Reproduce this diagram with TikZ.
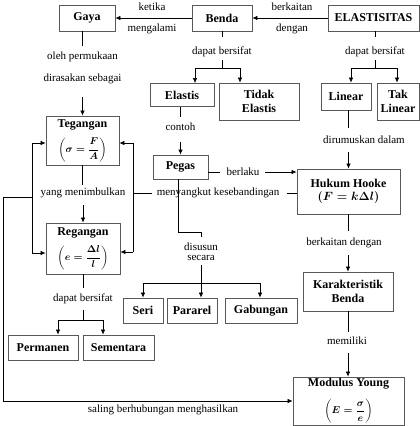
\documentclass[tikz,border=0pt]{standalone}
\usepackage{fontspec}
\setmainfont{Liberation Serif}
\usepackage{amsmath}
\usetikzlibrary{arrows.meta}
\newcommand\formsz{\fontsize{10}{12}\selectfont}
\begin{document}
\begin{tikzpicture}[x=1pt,y=-1pt,
 box/.style={draw=black!65, line width=0.9pt, inner sep=0pt, align=center, font=\fontsize{12}{13.5}\selectfont\bfseries},
 lbl/.style={inner sep=0pt, font=\fontsize{11}{13}\selectfont},
 ln/.style={line width=0.6pt},
 arr/.style={ln, -{Latex[length=5pt,width=4.5pt]}}]
\useasboundingbox (0,0) rectangle (420,426);
% boxes
\node[box,minimum width=56,minimum height=26] (gaya) at (87,18) {Gaya};
\node[box,minimum width=60,minimum height=26] (benda) at (222,18) {Benda};
\node[box,minimum width=91,minimum height=26] (elast) at (373.5,18) {ELASTISITAS};
\node[box,minimum width=64,minimum height=23] (elastis) at (182,95) {Elastis};
\node[box,minimum width=80,minimum height=37] (tidak) at (259,101.5) {Tidak\\Elastis};
\node[box,minimum width=50,minimum height=27] (linear) at (346,96.5) {Linear};
\node[box,minimum width=42,minimum height=37] (taklinear) at (398,101.5) {Tak\\Linear};
\node[box,minimum width=73,minimum height=49] (tegangan) at (82.5,140.5) {Tegangan\\[7pt]{\formsz\boldmath$\left(\sigma=\dfrac{F}{A}\right)$}};
\node[box,minimum width=55,minimum height=24] (pegas) at (180.5,167) {Pegas};
\node[box,minimum width=103,minimum height=45] (hooke) at (348.5,191.5) {Hukum Hooke\\{\boldmath$(F=k\Delta l)$}};
\node[box,minimum width=74,minimum height=51] (regangan) at (83,248.5) {Regangan\\[7pt]{\formsz\boldmath$\left(e=\dfrac{\Delta l}{l}\right)$}};
\node[box,minimum width=90,minimum height=39] (karak) at (348,291.5) {Karakteristik\\Benda};
\node[box,minimum width=40,minimum height=25] (seri) at (143,310.5) {Seri};
\node[box,minimum width=50,minimum height=25] (pararel) at (192,310.5) {Pararel};
\node[box,minimum width=72,minimum height=25] (gabungan) at (261,310.5) {Gabungan};
\node[box,minimum width=70,minimum height=25] (permanen) at (43,347.5) {Permanen};
\node[box,minimum width=71,minimum height=25] (sementara) at (118.5,347.5) {Sementara};
\node[box,minimum width=111,minimum height=48] (modulus) at (348.5,401) {Modulus Young\\[9pt]{\formsz\boldmath$\left(E=\dfrac{\sigma}{e}\right)$}};
% top row
\draw[arr] (benda.west) -- (gaya.east);
\node[lbl] (t1) at (152,7) {ketika};
\node[lbl] (t2) at (152,29) {mengalami};
\draw[arr] (elast.west) -- (benda.east);
\node[lbl] (t3) at (292,7) {berkaitan};
\node[lbl] (t4) at (292,29) {dengan};
% gaya -> tegangan
\coordinate (ga) at (82.5,46); \coordinate (gb) at (82.5,97);
\draw[ln] (gaya.south -| ga) -- (ga);
\node[lbl] (t5) at (82.5,57) {oleh permukaan};
\node[lbl] (t6) at (82.5,79) {dirasakan sebagai};
\draw[arr] (gb) -- (tegangan.north);
% benda split
\coordinate (ba) at (222,37); \coordinate (bb) at (222,60); \coordinate (bc) at (222,68);
\coordinate (bl) at (195,68); \coordinate (br) at (240,68);
\draw[ln] (benda.south) -- (ba);
\node[lbl] (t7) at (222,52) {dapat bersifat};
\draw[ln] (bb) -- (bc);
\draw[ln] (bl) -- (br);
\draw[arr] (bl) -- (bl |- elastis.north);
\draw[arr] (br) -- (br |- tidak.north);
% elastisitas split
\coordinate (ea) at (375,37); \coordinate (eb) at (375,60); \coordinate (ec) at (375,68);
\coordinate (el) at (351,68); \coordinate (er) at (397,68);
\draw[ln] (elast.south -| ea) -- (ea);
\node[lbl] (t8) at (375,52) {dapat bersifat};
\draw[ln] (eb) -- (ec);
\draw[ln] (el) -- (er);
\draw[arr] (el) -- (el |- linear.north);
\draw[arr] (er) -- (er |- taklinear.north);
% elastis -> pegas
\coordinate (ca) at (180.5,117); \coordinate (cb) at (180.5,142);
\draw[ln] (elastis.south -| ca) -- (ca);
\node[lbl] (t9) at (180.5,127) {contoh};
\draw[arr] (cb) -- (pegas.north);
% linear -> hooke
\coordinate (da) at (348.5,128); \coordinate (db) at (348.5,152);
\draw[ln] (linear.south -| da) -- (da);
\node[lbl] (t10) at (364,140) {dirumuskan dalam};
\draw[arr] (db) -- (hooke.north);
% pegas -> hooke (berlaku)
\coordinate (p1) at (220,172); \coordinate (p2) at (265,172);
\draw[ln] (p1 -| pegas.east) -- (p1);
\node[lbl] (t11) at (243,172) {berlaku};
\draw[arr] (p2) -- (p2 -| hooke.west);
% menyangkut kesebandingan
\coordinate (m1) at (287,193); \coordinate (m2) at (152,193); \coordinate (m3) at (133,193);
\draw[ln] (m1 -| hooke.west) -- (m1);
\node[lbl] (t12) at (218,193) {menyangkut kesebandingan};
\draw[ln] (m2) -- (m3);
\coordinate (rt) at (133,143); \coordinate (rb) at (133,252);
\draw[ln] (rt) -- (rb);
\draw[arr] (rt) -- (rt -| tegangan.east);
\draw[arr] (rb) -- (rb -| regangan.east);
% left loop
\coordinate (lt) at (32,143); \coordinate (lb) at (32,253);
\draw[ln] (lt) -- (lb);
\draw[arr] (lt) -- (lt -| tegangan.west);
\draw[arr] (lb) -- (lb -| regangan.west);
\coordinate (lm) at (32,197); \coordinate (lc) at (3,197); \coordinate (ld) at (3,401);
\draw[ln] (lm) -- (lc) -- (ld);
\draw[arr] (ld) -- (ld -| modulus.west);
\node[lbl] (t13) at (163,410) {saling berhubungan menghasilkan};
% tegangan -> regangan
\coordinate (ta) at (82.5,185); \coordinate (tb) at (83,205);
\draw[ln] (tegangan.south) -- (ta);
\node[lbl] (t14) at (83,193) {yang menimbulkan};
\draw[arr] (tb) -- (regangan.north);
% regangan -> permanen / sementara
\coordinate (ra) at (83,288); \coordinate (rbb) at (83,310); \coordinate (rc) at (83,320);
\coordinate (rl) at (58,320); \coordinate (rr) at (103,320);
\draw[ln] (regangan.south) -- (ra);
\node[lbl] (t15) at (83,299) {dapat bersifat};
\draw[ln] (rbb) -- (rc);
\draw[ln] (rl) -- (rr);
\draw[arr] (rl) -- (rl |- permanen.north);
\draw[arr] (rr) -- (rr |- sementara.north);
% pegas -> seri / pararel / gabungan
\coordinate (q1) at (178,232); \coordinate (q2) at (201,232); \coordinate (q3) at (201,237);
\draw[ln] (pegas.south -| q1) -- (q1) -- (q2) -- (q3);
\node[lbl] (t16) at (201,247) {disusun};
\node[lbl] (t17) at (201,258) {secara};
\coordinate (s1) at (201,265); \coordinate (s2) at (201,283);
\coordinate (sl) at (143,283); \coordinate (sr) at (260,283);
\draw[ln] (s1) -- (s2);
\draw[ln] (sl) -- (sr);
\draw[arr] (sl) -- (seri.north);
\draw[arr] (s2) -- (s2 |- pararel.north);
\draw[arr] (sr) -- (sr |- gabungan.north);
% hooke -> karakteristik
\coordinate (ka) at (348,231); \coordinate (kb) at (348,255);
\draw[ln] (hooke.south -| ka) -- (ka);
\node[lbl] (t18) at (344,243) {berkaitan dengan};
\draw[arr] (kb) -- (karak.north);
% karakteristik -> modulus
\coordinate (na) at (348,332); \coordinate (nb) at (348,353);
\draw[ln] (karak.south) -- (na);
\node[lbl] (t19) at (347,341) {memiliki};
\draw[arr] (nb) -- (nb |- modulus.north);
\end{tikzpicture}
\end{document}
